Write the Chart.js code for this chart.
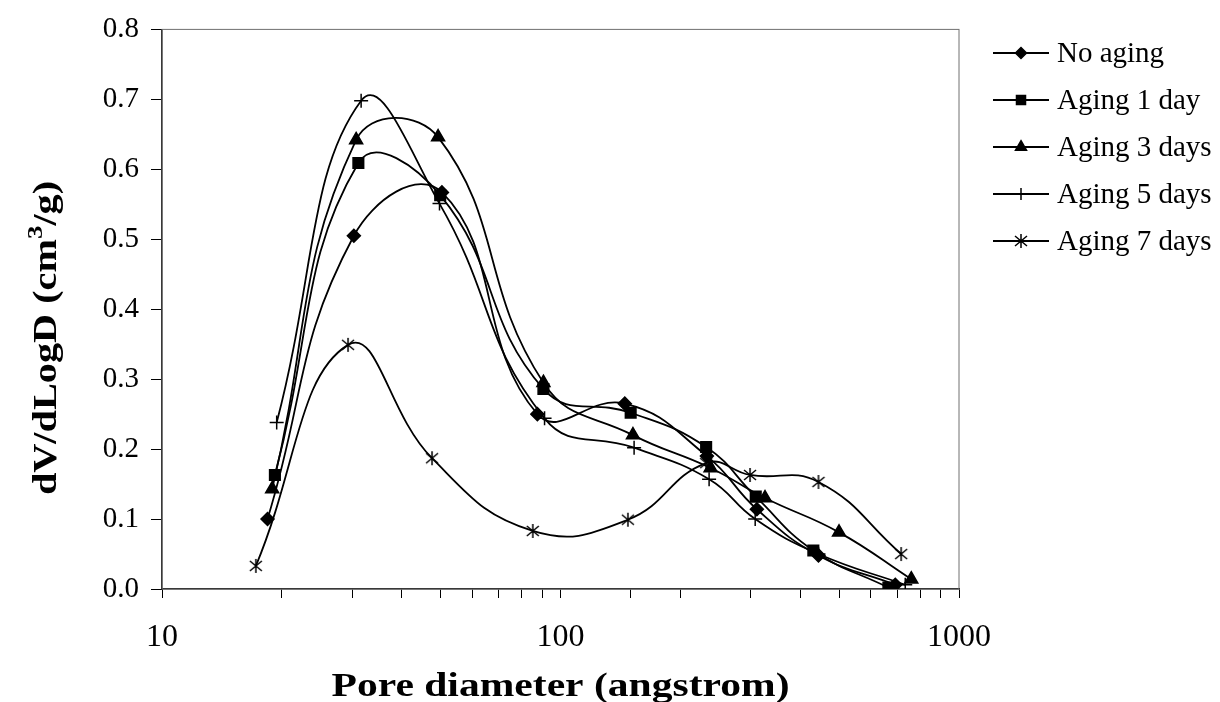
<!DOCTYPE html>
<html>
<head>
<meta charset="utf-8">
<script src="https://cdn.jsdelivr.net/npm/chart.js@4.4.1/dist/chart.umd.min.js"></script>
<style>
    html, body { margin: 0; padding: 0; background: #fff; }
    #wrap { width: 1220px; height: 702px; }
</style>
</head>
<body>
<div id="wrap"><canvas id="myChart" width="1220" height="702"></canvas></div>
<script>
// pore diameter (angstrom) and dV/dLogD (cm3/g)
const noAgingX = [18.4, 30.3, 50.4, 87.5, 145, 233, 311, 444, 692];
const noAgingY = [0.100, 0.505, 0.567, 0.250, 0.265, 0.190, 0.114, 0.048, 0.006];

const aging1X = [19.2, 31.1, 49.9, 90.6, 150, 232, 309, 431, 665];
const aging1Y = [0.163, 0.609, 0.563, 0.286, 0.252, 0.203, 0.132, 0.055, 0.002];

const aging3X = [18.9, 30.7, 49.3, 90.6, 152, 238, 326, 500, 759];
const aging3Y = [0.143, 0.642, 0.646, 0.295, 0.220, 0.173, 0.130, 0.081, 0.014];

const aging5X = [19.4, 31.6, 49.7, 91.2, 153, 236, 308, 444, 733];
const aging5Y = [0.238, 0.698, 0.551, 0.244, 0.202, 0.157, 0.100, 0.050, 0.006];

const aging7X = [17.2, 29.3, 47.6, 85.2, 147.6, 232, 299, 444, 716];
const aging7Y = [0.033, 0.349, 0.187, 0.083, 0.099, 0.180, 0.163, 0.153, 0.050];

const seriesLabels = ['No aging', 'Aging 1 day', 'Aging 3 days', 'Aging 5 days', 'Aging 7 days'];
const xTickLabels = [10, 100, 1000];
const yTicks = [0, 0.1, 0.2, 0.3, 0.4, 0.5, 0.6, 0.7, 0.8];

const serif = "'Liberation Serif', 'Times New Roman', serif";

// excel style asterisk marker: an x with a vertical bar
function makeAsterisk() {
    let c = document.createElement('canvas');
    c.width = 16;
    c.height = 16;
    let g = c.getContext('2d');
    g.strokeStyle = '#000';
    g.lineWidth = 1.5;
    g.beginPath();
    g.moveTo(8, 1); g.lineTo(8, 15);
    g.moveTo(2, 3); g.lineTo(14, 13);
    g.moveTo(14, 3); g.lineTo(2, 13);
    g.stroke();
    return c;
}

const markers = [
    { style: 'rectRot', radius: 6.5 },
    { style: 'rect', radius: 7.5 },
    { style: 'triangle', radius: 7.5 },
    { style: 'cross', radius: 7 },
    { style: makeAsterisk(), radius: 8 }
];

function makeSet(i, xs, ys) {
    return {
        label: seriesLabels[i],
        data: xs.map((x, k) => ({ x: x, y: ys[k] })),
        borderColor: '#000',
        backgroundColor: '#000',
        borderWidth: 1.8,
        tension: 0.45,
        fill: false,
        pointStyle: markers[i].style,
        pointRadius: markers[i].radius,
        pointHoverRadius: markers[i].radius,
        pointBorderWidth: 1.5,
        pointBackgroundColor: '#000',
        pointBorderColor: '#000'
    };
}

// text a little wider than the font, like the original picture
function wideText(ctx, parts, cx, cy, stretch) {
    let total = 0;
    parts.forEach(p => { ctx.font = p.font; p.w = ctx.measureText(p.text).width; total += p.w; });
    ctx.save();
    ctx.translate(cx, cy);
    ctx.scale(stretch, 1);
    let x = -total / 2;
    ctx.textAlign = 'left';
    ctx.textBaseline = 'alphabetic';
    parts.forEach(p => {
        ctx.font = p.font;
        ctx.fillText(p.text, x, p.dy);
        x += p.w;
    });
    ctx.restore();
}

const chartFrame = {
    id: 'chartFrame',
    beforeDatasetsDraw(chart) {
        const a = chart.chartArea;
        const ctx = chart.ctx;
        ctx.save();
        ctx.strokeStyle = '#707070';
        ctx.lineWidth = 1;
        ctx.strokeRect(a.left, a.top, a.right - a.left, a.bottom - a.top);
        ctx.restore();
    },
    afterDraw(chart) {
        const ctx = chart.ctx;
        const a = chart.chartArea;
        ctx.save();
        ctx.fillStyle = '#000';

        // x title
        wideText(ctx, [{ text: 'Pore diameter (angstrom)', font: 'bold 33px ' + serif, dy: 0 }],
            (a.left + a.right) / 2, 696, 1.26);

        // y title with superscript 3
        ctx.save();
        ctx.translate(45, 338);
        ctx.rotate(-Math.PI / 2);
        wideText(ctx, [
            { text: 'dV/dLogD (cm', font: 'bold 33px ' + serif, dy: 11 },
            { text: '3', font: 'bold 22px ' + serif, dy: -3 },
            { text: '/g)', font: 'bold 33px ' + serif, dy: 11 }
        ], 0, 0, 1.22);
        ctx.restore();
        ctx.restore();

        // legend: line with marker, then label
        ctx.save();
        const rows = [53, 100, 147, 194, 241];
        chart.data.datasets.forEach((ds, i) => {
            const y = rows[i];
            ctx.strokeStyle = '#000';
            ctx.fillStyle = '#000';
            ctx.lineWidth = 1.8;
            ctx.beginPath();
            ctx.moveTo(993, y);
            ctx.lineTo(1049, y);
            ctx.stroke();
            ctx.lineWidth = 1.5;
            Chart.helpers.drawPoint(ctx, {
                pointStyle: ds.pointStyle,
                radius: ds.pointRadius * 0.85,
                rotation: 0,
                borderWidth: 1.5
            }, 1021, y);
            ctx.font = '29px ' + serif;
            ctx.textAlign = 'left';
            ctx.textBaseline = 'middle';
            ctx.fillText(ds.label, 1057, y + 1);
        });
        ctx.restore();
    }
};

let canvas = document.getElementById('myChart');
let ctx = canvas.getContext('2d');
let myChart = new Chart(ctx, {
    type: 'line',
    data: {
        datasets: [
            makeSet(0, noAgingX, noAgingY),
            makeSet(1, aging1X, aging1Y),
            makeSet(2, aging3X, aging3Y),
            makeSet(3, aging5X, aging5Y),
            makeSet(4, aging7X, aging7Y)
        ]
    },
    options: {
        responsive: false,
        devicePixelRatio: 1,
        animation: false,
        layout: {
            padding: { top: 24, right: 261, left: 0, bottom: 0 }
        },
        plugins: {
            legend: { display: false },
            tooltip: { enabled: false }
        },
        scales: {
            x: {
                type: 'logarithmic',
                min: 10,
                max: 1000,
                afterFit(scale) { scale.height = 113; },
                border: { display: true, color: '#000', width: 1.5 },
                grid: {
                    drawOnChartArea: false,
                    drawTicks: true,
                    tickLength: 9,
                    color: '#000',
                    lineWidth: 1
                },
                ticks: {
                    autoSkip: false,
                    maxRotation: 0,
                    padding: 20,
                    color: '#000',
                    font: { family: serif, size: 32 },
                    callback: function (value) {
                        return xTickLabels.includes(Math.round(value)) && Math.abs(value - Math.round(value)) < 1e-6 ? String(Math.round(value)) : '';
                    }
                }
            },
            y: {
                min: 0,
                max: 0.8,
                afterFit(scale) { scale.width = 162; },
                afterBuildTicks(scale) {
                    scale.ticks = yTicks.map(v => ({ value: v }));
                },
                border: { display: true, color: '#000', width: 1.5 },
                grid: {
                    drawOnChartArea: false,
                    drawTicks: true,
                    tickLength: 11,
                    color: '#000',
                    lineWidth: 1
                },
                ticks: {
                    padding: 12,
                    color: '#000',
                    font: { family: serif, size: 29 },
                    callback: function (value) {
                        return Number(value).toFixed(1);
                    }
                }
            }
        }
    },
    plugins: [chartFrame]
});
</script>
</body>
</html>
